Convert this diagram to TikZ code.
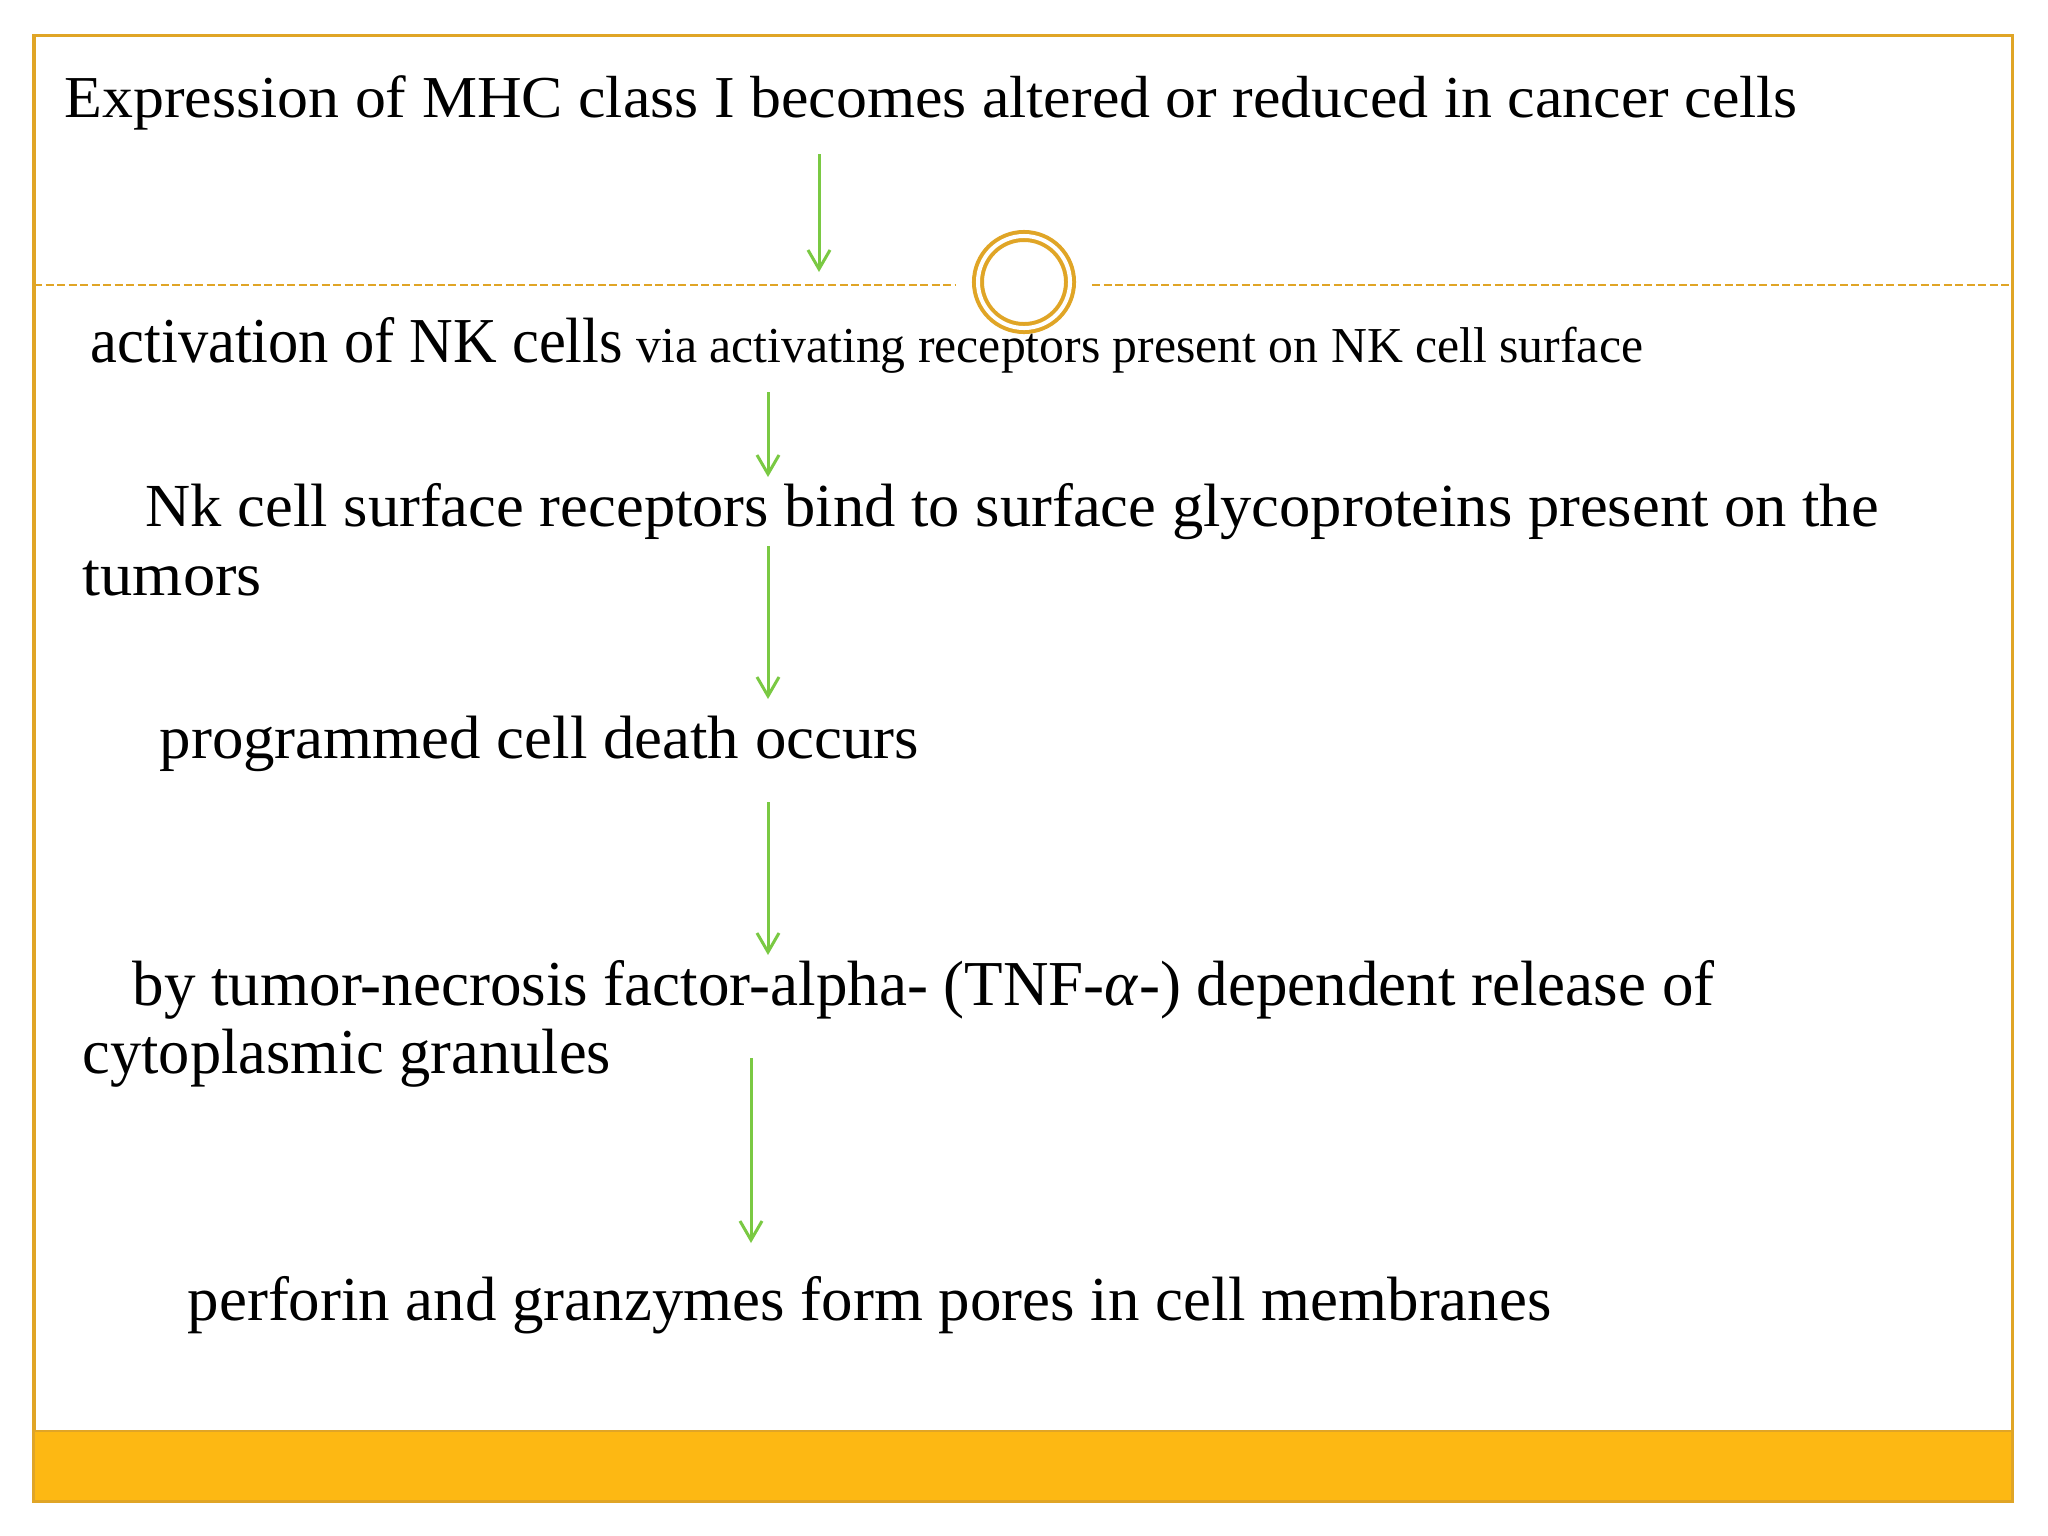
\documentclass[tikz,border=0pt]{standalone}
\usepackage{fontspec}
\setmainfont{Liberation Serif}
\usepackage{xcolor}
\usetikzlibrary{positioning, arrows.meta}

\definecolor{goldline}{HTML}{E0A526}
\definecolor{goldbar}{HTML}{FDB813}
\definecolor{arrowgreen}{HTML}{7AC943}
\newcommand{\fitto}[2]{\resizebox{#1}{\height}{#2}}

\tikzset{
    flowtext/.style={anchor=base west, inner sep=0pt},
    flowarrow/.style={-{Straight Barb[length=0.19cm, width=0.22cm]},
        arrowgreen, line width=0.03cm},
}

\begin{document}
\begin{tikzpicture}[x=0.01cm, y=-0.01cm]

    \useasboundingbox (0,0) rectangle (2048,1536);
    \fill[white] (0,0) rectangle (2048,1536);
    \draw[goldline, line width=0.03cm] (34,35) rectangle (2012,1501);
    \fill[goldbar, draw=goldline, line width=0.02cm]
        (34,1431) rectangle (2012,1501);
    \draw[goldline, line width=0.022cm, dash pattern=on 0.08cm off 0.035cm]
        (34,285) -- (956,285) (1092,285) -- (2012,285);
    \node[circle, draw=goldline, line width=0.04cm, double=white,
        double distance=0.04cm, minimum size=0.92cm, inner sep=0pt]
        (ring) at (1024,282) {};

    \node[flowtext] (mhc) at (64,117)
        {\fontsize{16.9}{20}\selectfont\fitto{17.32cm}{Expression of MHC class I becomes altered or reduced in cancer cells}};
    \node[flowtext] (nkact) at (90,362)
        {\fontsize{18.2}{22}\selectfont\fitto{5.32cm}{activation of NK cells}};
    \node[flowtext] (nkvia) at ([xshift=0.12cm] nkact.base east)
        {\fontsize{14.3}{17}\selectfont\fitto{10.06cm}{via activating receptors present on NK cell surface}};
    \node[flowtext] (nkbind) at (145,526)
        {\fontsize{17.4}{21}\selectfont\fitto{17.32cm}{Nk cell surface receptors bind to surface glycoproteins present on the}};
    \node[flowtext] (tumors) at (82,595)
        {\fontsize{17.4}{21}\selectfont\fitto{1.79cm}{tumors}};
    \node[flowtext] (death) at (159,758)
        {\fontsize{17.4}{21}\selectfont\fitto{7.59cm}{programmed cell death occurs}};
    \node[flowtext] (tnf) at (132,1005)
        {\fontsize{18.2}{22}\selectfont\fitto{15.81cm}{by tumor-necrosis factor-alpha- (TNF-\textit{α}-) dependent release of}};
    \node[flowtext] (granules) at (82,1073)
        {\fontsize{18.2}{22}\selectfont\fitto{5.28cm}{cytoplasmic granules}};
    \node[flowtext] (perforin) at (187,1320)
        {\fontsize{17.8}{21}\selectfont\fitto{13.63cm}{perforin and granzymes form pores in cell membranes}};

    \coordinate (a1s) at (819,154);
    \coordinate (a1e) at (819,272);
    \coordinate (a2s) at (768,392);
    \coordinate (a2e) at (768,477);
    \coordinate (a3s) at (768,546);
    \coordinate (a3e) at (768,699);
    \coordinate (a4s) at (768,802);
    \coordinate (a4e) at (768,955);
    \coordinate (a5s) at (751,1058);
    \coordinate (a5e) at (751,1243);

    \draw[flowarrow] (a1s) -- (a1e);
    \draw[flowarrow] (a2s) -- (a2e);
    \draw[flowarrow] (a3s) -- (a3e);
    \draw[flowarrow] (a4s) -- (a4e);
    \draw[flowarrow] (a5s) -- (a5e);

\end{tikzpicture}
\end{document}
